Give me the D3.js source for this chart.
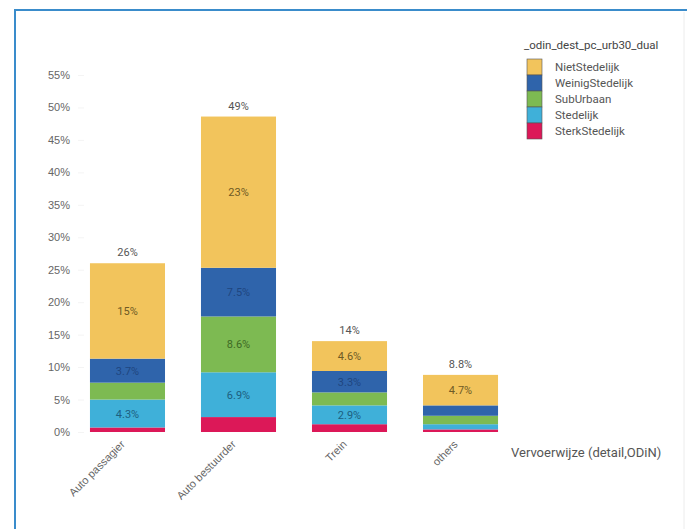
<!DOCTYPE html>
<html>
<head>
<meta charset="utf-8">
<script src="https://cdn.jsdelivr.net/npm/d3@7"></script>
<style>
	body { margin: 0; background: #fff; }
	svg { font-family: Roboto, 'Open Sans', sans-serif; }
</style>
</head>
<body>
<div id="chart"></div>
<script>
'use strict';

// DATA
var categories = ['Auto passagier', 'Auto bestuurder', 'Trein', 'others'];
var seriesNames = ['SterkStedelijk', 'Stedelijk', 'SubUrbaan', 'WeinigStedelijk', 'NietStedelijk'];
var sterkStedelijk = [0.7, 2.3, 1.2, 0.4];
var stedelijk = [4.3, 6.9, 2.9, 0.8];
var subUrbaan = [2.6, 8.6, 2.0, 1.3];
var weinigStedelijk = [3.7, 7.5, 3.3, 1.6];
var nietStedelijk = [14.7, 23.3, 4.6, 4.7];
var yTicks = [0, 5, 10, 15, 20, 25, 30, 35, 40, 45, 50, 55];
var legendOrder = ['NietStedelijk', 'WeinigStedelijk', 'SubUrbaan', 'Stedelijk', 'SterkStedelijk'];

var colors = {
	NietStedelijk: '#f2c45c',
	WeinigStedelijk: '#2f64ab',
	SubUrbaan: '#7dba52',
	Stedelijk: '#3fb0d9',
	SterkStedelijk: '#dc1858'
};
var labelColors = {
	NietStedelijk: '#6e5a25',
	WeinigStedelijk: '#1f4680',
	SubUrbaan: '#3d6a25',
	Stedelijk: '#1d5f80',
	SterkStedelijk: '#6a0a28'
};

var rows = categories.map(function(c, i){
	return {
		cat: c,
		SterkStedelijk: sterkStedelijk[i],
		Stedelijk: stedelijk[i],
		SubUrbaan: subUrbaan[i],
		WeinigStedelijk: weinigStedelijk[i],
		NietStedelijk: nietStedelijk[i]
	};
});

var width = 687;
var height = 529;
var fmt = d3.format('.2r');

var svg = d3.select('#chart').append('svg')
	.attr('width', width)
	.attr('height', height);

// FRAME
svg.append('rect')
	.attr('x', 15)
	.attr('y', 10)
	.attr('width', 720)
	.attr('height', 600)
	.attr('fill', 'none')
	.attr('stroke', '#3a8ccb')
	.attr('stroke-width', 2);

svg.append('line')
	.attr('x1', 684).attr('x2', 684)
	.attr('y1', 12).attr('y2', height)
	.attr('stroke', '#ececec');

// SCALES
var xScale = d3.scaleBand()
	.domain(categories)
	.range([54, 534])
	.padding(0.324);

var yScale = d3.scaleLinear()
	.domain([0, 55])
	.range([432, 75]);

// Y AXIS
var yAxis = d3.axisLeft(yScale)
	.tickValues(yTicks)
	.tickSize(6)
	.tickPadding(8)
	.tickFormat(function(d){ return d + '%'; });

var gy = svg.append('g')
	.attr('transform', 'translate(84,0)')
	.call(yAxis);
gy.select('.domain').remove();
gy.selectAll('.tick line').attr('stroke', '#f4f4f4');
gy.selectAll('.tick text')
	.attr('fill', '#666')
	.style('font-size', '11px');

// X AXIS
var xAxis = d3.axisBottom(xScale).tickSize(0).tickPadding(0);
var gx = svg.append('g')
	.attr('transform', 'translate(0,432)')
	.call(xAxis);
gx.select('.domain').remove();
gx.selectAll('.tick text')
	.attr('fill', '#666')
	.style('font-size', '11px')
	.attr('text-anchor', 'end')
	.attr('dy', 0)
	.attr('transform', 'translate(-2,13) rotate(-45)');

svg.append('text')
	.attr('x', 511)
	.attr('y', 457)
	.attr('fill', '#555')
	.style('font-size', '13px')
	.text('Vervoerwijze (detail,ODiN)');

// STACKED BARS
var stack = d3.stack().keys(seriesNames);
var series = stack(rows);

var layer = svg.append('g').selectAll('g')
	.data(series)
	.enter().append('g')
	.attr('fill', function(d){ return colors[d.key]; });

layer.selectAll('rect')
	.data(function(d){ return d; })
	.enter().append('rect')
	.attr('x', function(d){ return xScale(d.data.cat); })
	.attr('width', xScale.bandwidth())
	.attr('y', function(d){ return yScale(d[1]); })
	.attr('height', function(d){ return yScale(d[0]) - yScale(d[1]); });

// SEGMENT LABELS
layer.each(function(s){
	d3.select(this).selectAll('text')
		.data(s.filter(function(d){ return yScale(d[0]) - yScale(d[1]) > 18; }))
		.enter().append('text')
		.attr('x', function(d){ return xScale(d.data.cat) + xScale.bandwidth() / 2; })
		.attr('y', function(d){ return (yScale(d[0]) + yScale(d[1])) / 2 + 4; })
		.attr('text-anchor', 'middle')
		.attr('fill', labelColors[s.key])
		.style('font-size', '11px')
		.text(function(d){ return fmt(d[1] - d[0]) + '%'; });
});

// TOTAL LABELS
svg.append('g').selectAll('text')
	.data(rows)
	.enter().append('text')
	.attr('x', function(d){ return xScale(d.cat) + xScale.bandwidth() / 2; })
	.attr('y', function(d){
		var t = d3.sum(seriesNames, function(k){ return d[k]; });
		return yScale(t) - 7;
	})
	.attr('text-anchor', 'middle')
	.attr('fill', '#555')
	.style('font-size', '11px')
	.text(function(d){
		return fmt(d3.sum(seriesNames, function(k){ return d[k]; })) + '%';
	});

// LEGEND
var legend = svg.append('g').attr('transform', 'translate(524,0)');

legend.append('text')
	.attr('x', 0)
	.attr('y', 49)
	.attr('fill', '#444')
	.style('font-size', '11.5px')
	.text('_odin_dest_pc_urb30_dual');

var item = legend.selectAll('g.item')
	.data(legendOrder)
	.enter().append('g')
	.attr('class', 'item')
	.attr('transform', function(d, i){ return 'translate(3,' + (59 + i * 16) + ')'; });

item.append('rect')
	.attr('width', 15)
	.attr('height', 16)
	.attr('fill', function(d){ return colors[d]; })
	.attr('stroke', '#555')
	.attr('stroke-width', 0.6);

item.append('text')
	.attr('x', 28)
	.attr('y', 12)
	.attr('fill', '#555')
	.style('font-size', '11.5px')
	.text(function(d){ return d; });
</script>
</body>
</html>
